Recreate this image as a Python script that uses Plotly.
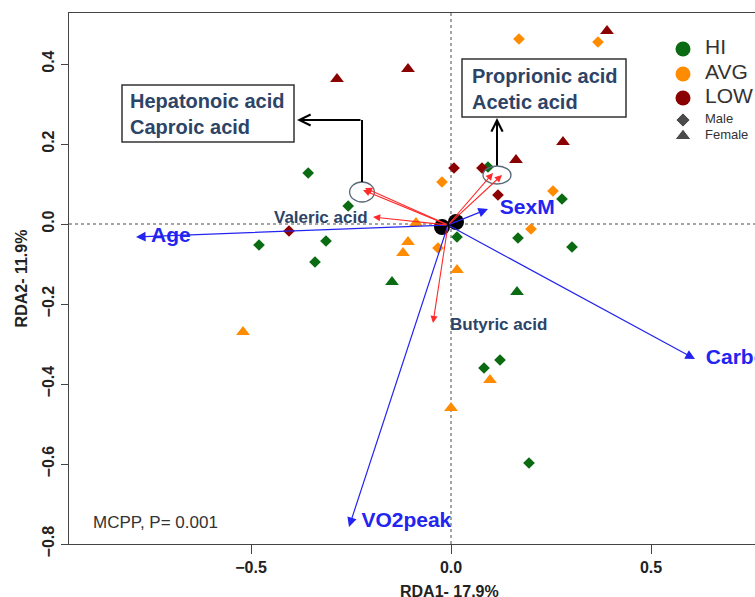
import plotly.graph_objects as go

# ---- sample scores (RDA1, RDA2) ----
hi_m_x = [-0.357, -0.257, -0.48, -0.3125, -0.34, 0.0925, 0.2775, 0.015, 0.1675, 0.3025, 0.0825, 0.1225, 0.195]
hi_m_y = [0.1275, 0.045, -0.0525, -0.0425, -0.095, 0.1425, 0.0625, -0.0325, -0.035, -0.0575, -0.36, -0.34, -0.5975]
hi_f_x = [-0.1475, 0.165]
hi_f_y = [-0.145, -0.17]
avg_m_x = [0.17, 0.3675, -0.0225, 0.255, 0.2, -0.0325]
avg_m_y = [0.4625, 0.455, 0.105, 0.0825, -0.0125, -0.06]
avg_f_x = [-0.0875, -0.1075, -0.12, 0.015, -0.52, 0.0975, 0.0]
avg_f_y = [0.0025, -0.045, -0.0725, -0.115, -0.27, -0.39, -0.46]
low_m_x = [0.0075, 0.0775, 0.1175, -0.405]
low_m_y = [0.14, 0.14, 0.0725, -0.0175]
low_f_x = [-0.285, -0.1075, 0.39, 0.28, 0.1625]
low_f_y = [0.3625, 0.3875, 0.4825, 0.205, 0.16]
centroid_x = [-0.0225, 0.0125]
centroid_y = [-0.0075, 0.005]

# ---- explanatory vectors ----
origin = (-0.0075, -0.0025)
env_names = ["Age", "SexM", "Carbohydrate", "VO2peak"]
env_x = [-0.7875, 0.0925, 0.61, -0.255]
env_y = [-0.0325, 0.0375, -0.3375, -0.7575]
env_lab_x = [-0.75, 0.122, 0.637, -0.224]
env_lab_y = [-0.0325, 0.0375, -0.3375, -0.745]

# ---- SCFA vectors ----
acid_names = ["Hepatonoic acid", "Caproic acid", "Valeric acid", "Proprionic acid", "Acetic acid", "Butyric acid"]
acid_x = [-0.215, -0.22, -0.195, 0.105, 0.1275, -0.045]
acid_y = [0.09, 0.085, 0.0175, 0.1275, 0.1225, -0.2475]

# ---- axes ----
x_ticks = [-0.5, 0.0, 0.5]
y_ticks = [0.4, 0.2, 0.0, -0.2, -0.4, -0.6, -0.8]

# ---- legend ----
leg_names = ["HI", "AVG", "LOW"]
leg_y = [0.4375, 0.375, 0.315]
sex_names = ["Male", "Female"]
sex_y = [0.26, 0.22]

HI = "#0b6b12"
AVG = "#ff8c00"
LOW = "#8b0000"
BLUE = "#2424f0"
RED = "#ff2a2a"
ACID_TXT = "#2d4466"
FONT = "Liberation Sans, Arial, sans-serif"

fig = go.Figure()

def pts(x, y, color, symbol, size):
    fig.add_trace(go.Scatter(x=x, y=y, mode="markers", cliponaxis=True,
                             marker=dict(color=color, symbol=symbol, size=size, line=dict(width=0)),
                             showlegend=False, hoverinfo="skip"))

pts(hi_m_x, hi_m_y, HI, "diamond", 9)
pts(hi_f_x, hi_f_y, HI, "triangle-up", 12)
pts(avg_m_x, avg_m_y, AVG, "diamond", 9)
pts(avg_f_x, avg_f_y, AVG, "triangle-up", 12)
pts(low_m_x, low_m_y, LOW, "diamond", 9)
pts(low_f_x, low_f_y, LOW, "triangle-up", 12)
pts(centroid_x, centroid_y, "black", "circle", 16)

# blue labels (clipped at plot edge)
fig.add_trace(go.Scatter(x=env_lab_x, y=env_lab_y, mode="text", text=env_names,
                         textposition="middle right", cliponaxis=True,
                         textfont=dict(family=FONT, size=21, color=BLUE, weight="bold"),
                         showlegend=False, hoverinfo="skip"))

# custom legend (clipped at figure edge)
leg_x = 0.58
fig.add_trace(go.Scatter(x=[leg_x] * 3, y=leg_y, mode="markers", cliponaxis=True,
                         marker=dict(color=[HI, AVG, LOW], size=15, symbol="circle"),
                         showlegend=False, hoverinfo="skip"))
fig.add_trace(go.Scatter(x=[leg_x + 0.055] * 3, y=leg_y, mode="text", text=leg_names,
                         textposition="middle right", cliponaxis=True,
                         textfont=dict(family=FONT, size=21, color="#333333"),
                         showlegend=False, hoverinfo="skip"))
fig.add_trace(go.Scatter(x=[leg_x, leg_x], y=sex_y, mode="markers", cliponaxis=True,
                         marker=dict(color="black", size=[11, 14], symbol=["diamond", "triangle-up"]),
                         showlegend=False, hoverinfo="skip"))
fig.add_trace(go.Scatter(x=[leg_x + 0.055] * 2, y=sex_y, mode="text", text=sex_names,
                         textposition="middle right", cliponaxis=True,
                         textfont=dict(family=FONT, size=13, color="#333333"),
                         showlegend=False, hoverinfo="skip"))

ann = []
for tx, ty in zip(env_x, env_y):
    ann.append(dict(x=tx, y=ty, ax=origin[0], ay=origin[1], xref="x", yref="y", axref="x", ayref="y",
                    text="", showarrow=True, arrowhead=2, arrowsize=1.6, arrowwidth=1.2,
                    arrowcolor=BLUE, standoff=0, startstandoff=0))
for tx, ty in zip(acid_x, acid_y):
    ann.append(dict(x=tx, y=ty, ax=origin[0], ay=origin[1], xref="x", yref="y", axref="x", ayref="y",
                    text="", showarrow=True, arrowhead=2, arrowsize=1.3, arrowwidth=1.1,
                    arrowcolor=RED, standoff=0, startstandoff=0))

# acid labels
ann.append(dict(x=-0.2025, y=0.0175, xref="x", yref="y", text="<b>Valeric acid</b>", showarrow=False,
                xanchor="right", yanchor="middle", font=dict(family=FONT, size=17, color=ACID_TXT)))
ann.append(dict(x=-0.008, y=-0.25, xref="x", yref="y", text="<b>Butyric acid</b>", showarrow=False,
                xanchor="left", yanchor="middle", font=dict(family=FONT, size=17, color=ACID_TXT)))
# boxed labels
ann.append(dict(x=-0.8075, y=0.2755, xref="x", yref="y",
                text="<b>Hepatonoic acid<br>Caproic acid</b>", showarrow=False, align="left",
                xanchor="left", yanchor="middle", font=dict(family=FONT, size=20, color=ACID_TXT)))
ann.append(dict(x=0.048, y=0.338, xref="x", yref="y",
                text="<b>Proprionic acid<br>Acetic acid</b>", showarrow=False, align="left",
                xanchor="left", yanchor="middle", font=dict(family=FONT, size=20, color=ACID_TXT)))
# connector arrowheads
ann.append(dict(x=-0.385, y=0.26, ax=-0.2225, ay=0.26, xref="x", yref="y", axref="x", ayref="y",
                text="", showarrow=True, arrowhead=5, arrowsize=1.1, arrowwidth=2, arrowcolor="black",
                standoff=0))
ann.append(dict(x=0.115, y=0.265, ax=0.115, ay=0.1425, xref="x", yref="y", axref="x", ayref="y",
                text="", showarrow=True, arrowhead=5, arrowsize=1.1, arrowwidth=2, arrowcolor="black",
                standoff=0))
# stat text
ann.append(dict(x=-0.9, y=-0.745, xref="x", yref="y", text="MCPP, P= 0.001", showarrow=False,
                xanchor="left", yanchor="middle", font=dict(family=FONT, size=17, color="#333333")))
# x axis title
ann.append(dict(x=-0.005, y=-0.07, xref="x", yref="paper", text="<b>RDA1- 17.9%</b>", showarrow=False,
                xanchor="center", yanchor="top", font=dict(family=FONT, size=16, color="#222222")))

shapes = [
    dict(type="line", xref="x", yref="paper", x0=0, x1=0, y0=0, y1=1,
         line=dict(color="#888888", width=1.5, dash="dot"), layer="below"),
    dict(type="line", xref="paper", yref="y", x0=0, x1=1, y0=0, y1=0,
         line=dict(color="#888888", width=1.5, dash="dot"), layer="below"),
    dict(type="circle", xref="x", yref="y", x0=-0.2535, x1=-0.1915, y0=0.055, y1=0.105,
         line=dict(color="#5a6a7a", width=1.3)),
    dict(type="circle", xref="x", yref="y", x0=0.08, x1=0.15, y0=0.1, y1=0.145,
         line=dict(color="#5a6a7a", width=1.3)),
    dict(type="rect", xref="x", yref="y", x0=-0.8225, x1=-0.3925, y0=0.205, y1=0.3475,
         line=dict(color="#333333", width=1.5)),
    dict(type="rect", xref="x", yref="y", x0=0.0275, x1=0.4375, y0=0.2675, y1=0.4125,
         line=dict(color="#333333", width=1.5)),
    dict(type="line", xref="x", yref="y", x0=-0.2225, x1=-0.2225, y0=0.105, y1=0.26,
         line=dict(color="black", width=2)),
]

fig.update_layout(
    width=755, height=597,
    margin=dict(l=69, r=0, t=13, b=53),
    paper_bgcolor="white", plot_bgcolor="white",
    font=dict(family=FONT, color="#222222"),
    annotations=ann, shapes=shapes,
    xaxis=dict(range=[-0.955, 0.76], tickvals=x_ticks, tickformat=".1f", showgrid=False, zeroline=False,
               showline=True, mirror=True, linecolor="#444444", linewidth=1.3,
               ticks="outside", ticklen=9, tickcolor="#444444", tickwidth=1.3,
               tickfont=dict(family=FONT, size=16, color="#222222", weight="bold")),
    yaxis=dict(range=[-0.8, 0.5275], tickvals=y_ticks, tickformat=".1f", showgrid=False, zeroline=False,
               showline=True, linecolor="#444444", linewidth=1.3,
               ticks="outside", ticklen=7, tickcolor="#444444", tickwidth=1.3, tickangle=-90,
               tickfont=dict(family=FONT, size=16, color="#222222", weight="bold"),
               title=dict(text="<b>RDA2- 11.9%</b>", standoff=8,
                          font=dict(family=FONT, size=16, color="#222222"))),
)

fig.write_html("out.html")
